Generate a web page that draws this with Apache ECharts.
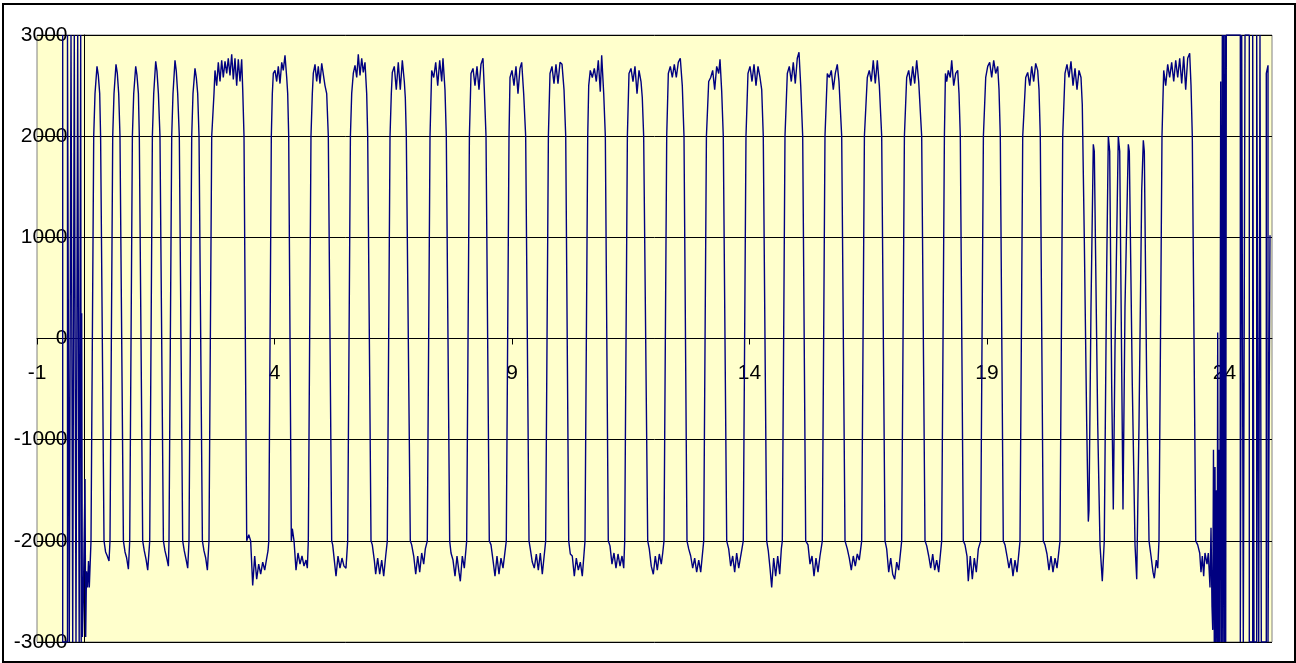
<!DOCTYPE html>
<html><head><meta charset="utf-8">
<script src="https://cdn.jsdelivr.net/npm/echarts@6/dist/echarts.min.js"></script>
<style>html,body{margin:0;padding:0;background:#fff}#c{width:1296px;height:663px}</style>
</head><body><div id="c"></div>
<script>
// Axis ticks / ranges
const xTickValues = [-1, 4, 9, 14, 19, 24];
const xRange = [-1, 25];
const yRange = [-3000, 3000];
const yStep = 1000;

// Signal, as [time, value] vertices
const leftNoise = [[-0.459,3000],[-0.459,-3000],[-0.358,-3000],[-0.358,3000],[-0.32,3000],[-0.32,-3000],[-0.284,-3000],[-0.284,3000],[-0.248,3000],[-0.248,-3000],[-0.215,-3000],[-0.215,3000],[-0.179,3000],[-0.179,-3000],[-0.143,-3000],[-0.143,3000],[-0.112,3000],[-0.112,-3000],[-0.08,-3000],[-0.08,3000],[-0.069,-3000],[-0.059,250],[-0.045,-2950],[-0.025,-2600],[0.011,-1390],[0.025,-2950],[0.042,-2300],[0.063,-2460],[0.084,-2200],[0.101,-2460]];

const waveA = [
[0.137,-2000],[0.194,2000],[0.221,2420],[0.263,2690],[0.291,2600],[0.32,2420],[0.339,2000],[0.411,-2000],[0.444,-2110],[0.48,-2150],[0.516,-2200],
[0.537,-2000],[0.594,2000],[0.621,2420],[0.663,2710],[0.691,2620],[0.72,2420],[0.747,2000],[0.819,-2000],[0.853,-2110],[0.888,-2170],[0.924,-2280],
[0.952,-2000],[1.008,2000],[1.036,2420],[1.078,2690],[1.105,2600],[1.135,2420],[1.154,2000],[1.225,-2000],[1.259,-2100],[1.295,-2180],[1.331,-2290],
[1.373,-2000],[1.429,2000],[1.457,2420],[1.499,2740],[1.526,2640],[1.556,2420],[1.589,2000],[1.661,-2000],[1.695,-2100],[1.731,-2170],[1.766,-2250],
[1.779,-2000],[1.836,2000],[1.863,2420],[1.905,2750],[1.933,2640],[1.962,2420],[1.996,2000],[2.067,-2000],[2.101,-2100],[2.137,-2180],[2.173,-2270],
[2.2,-2000],[2.257,2000],[2.284,2420],[2.326,2670],[2.354,2580],[2.383,2420],[2.411,2000],[2.482,-2000],[2.516,-2100],[2.552,-2170],[2.587,-2290],
[2.621,-2000],[2.678,2000],[2.726,2420],[2.747,2650],[2.783,2500],[2.817,2730],[2.853,2540],[2.888,2750],[2.922,2580],[2.958,2740],[2.994,2620],[3.027,2770],[3.063,2600],[3.099,2810],[3.133,2560],[3.168,2770],[3.204,2500],[3.238,2760],[3.274,2540],[3.309,2760],[3.331,2460],[3.358,2000],[3.415,-2000],[3.459,-1940],[3.498,-2000],[3.541,-2440],[3.583,-2150],[3.625,-2380],[3.667,-2230],[3.709,-2330],[3.752,-2210],[3.794,-2290],[3.836,-2170],[3.863,-2100]
];

const waveB = [
[3.88,-2000],[3.933,2000],[3.954,2420],[3.975,2620],[4.011,2650],[4.046,2540],[4.08,2690],[4.116,2520],[4.152,2730],[4.185,2650],[4.221,2800],[4.257,2580],[4.278,2420],[4.299,2000],[4.354,-2000],[4.375,-1880],[4.411,-2000],[4.453,-2290],[4.495,-2120],[4.537,-2230],[4.579,-2150],[4.621,-2250],[4.663,-2190],[4.691,-2270],
[4.712,-2000],[4.768,2000],[4.796,2420],[4.817,2620],[4.853,2710],[4.888,2540],[4.922,2690],[4.958,2520],[4.994,2720],[5.027,2730],[5.063,2500],[5.099,2420],[5.133,2000],[5.204,-2000],[5.225,-2040],[5.259,-2190],[5.295,-2350],[5.337,-2150],[5.379,-2270],[5.421,-2170],[5.463,-2250],[5.505,-2270],
[5.541,-2000],[5.598,2000],[5.625,2420],[5.659,2620],[5.695,2700],[5.731,2580],[5.764,2810],[5.8,2600],[5.836,2770],[5.869,2630],[5.905,2730],[5.941,2420],[5.962,2000],[6.032,-2000],[6.059,-2040],[6.101,-2190],[6.13,-2330],[6.172,-2170],[6.215,-2330],[6.257,-2190],[6.299,-2350],[6.341,-2150],
[6.375,-2000],[6.432,2000],[6.459,2420],[6.48,2630],[6.522,2690],[6.564,2460],[6.606,2730],[6.648,2460],[6.691,2750],[6.733,2540],[6.754,2380],[6.775,2000],[6.859,-2000],[6.888,-2040],[6.931,-2150],[6.973,-2330],[7.015,-2150],[7.057,-2310],[7.099,-2120],[7.141,-2230],[7.175,-2080],
[7.217,-2000],[7.274,2000],[7.309,2650],[7.352,2580],[7.394,2730],[7.436,2500],[7.478,2750],[7.52,2540],[7.547,2770],[7.589,2460],[7.617,2000],[7.688,-2000],[7.716,-2120],[7.758,-2190],[7.8,-2350],[7.842,-2150],[7.884,-2310],[7.912,-2400],[7.954,-2150],[7.996,-2270],
[8.046,-2000],[8.103,2000],[8.137,2620],[8.179,2670],[8.221,2500],[8.263,2690],[8.305,2460],[8.347,2710],[8.389,2770],[8.417,2460],[8.453,2000],[8.522,-2000],[8.558,-2040],[8.6,-2190],[8.642,-2350],[8.684,-2150],[8.726,-2330],[8.768,-2170],[8.811,-2270],
[8.88,-2000],[8.937,2000],[8.958,2580],[9,2650],[9.042,2500],[9.084,2690],[9.126,2420],[9.168,2670],[9.204,2730],[9.246,2420],[9.288,2000],[9.358,-2000],[9.385,-2080],[9.427,-2210],[9.469,-2270],[9.512,-2130],[9.554,-2290],[9.596,-2120],[9.638,-2330]
];

const waveC = [
[9.709,-2000],[9.766,2000],[9.8,2620],[9.842,2690],[9.884,2520],[9.926,2710],[9.968,2520],[10.011,2730],[10.053,2710],[10.095,2460],[10.131,2000],[10.194,-2000],[10.228,-2130],[10.269,-2150],[10.312,-2350],[10.354,-2170],[10.396,-2290],[10.438,-2210],[10.48,-2350],
[10.537,-2000],[10.594,2000],[10.615,2500],[10.648,2650],[10.691,2580],[10.733,2670],[10.775,2540],[10.817,2750],[10.859,2440],[10.888,2800],[10.931,2420],[10.965,2000],[11.027,-2000],[11.063,-2050],[11.105,-2230],[11.147,-2120],[11.189,-2270],[11.232,-2130],[11.274,-2250],[11.316,-2150],[11.352,-2270],
[11.373,-2000],[11.429,2000],[11.463,2620],[11.505,2670],[11.547,2540],[11.589,2690],[11.632,2420],[11.674,2650],[11.716,2540],[11.743,2380],[11.772,2000],[11.857,-2000],[11.89,-2080],[11.932,-2250],[11.975,-2330],[12.017,-2150],[12.059,-2290],[12.101,-2130],[12.143,-2230],[12.173,-2120],
[12.2,-2000],[12.257,2000],[12.291,2620],[12.333,2690],[12.375,2580],[12.417,2710],[12.459,2580],[12.501,2730],[12.543,2770],[12.585,2500],[12.621,2000],[12.684,-2000],[12.72,-2080],[12.762,-2150],[12.804,-2270],[12.846,-2170],[12.888,-2310],[12.931,-2190],[12.973,-2310],
[13.036,-2000],[13.093,2000],[13.141,2540],[13.183,2580],[13.225,2650],[13.267,2460],[13.309,2690],[13.352,2620],[13.379,2760],[13.415,2440],[13.448,2000],[13.52,-2000],[13.562,-2080],[13.604,-2250],[13.646,-2150],[13.688,-2310],[13.73,-2120],[13.773,-2270],[13.815,-2150],
[13.869,-2000],[13.926,2000],[13.968,2620],[14.011,2690],[14.053,2540],[14.095,2710],[14.137,2500],[14.179,2690],[14.221,2580],[14.257,2460],[14.29,2000],[14.362,-2000],[14.396,-2100],[14.432,-2270],[14.467,-2460],[14.509,-2170],[14.551,-2350],[14.594,-2150],[14.636,-2330],[14.67,-2080],
[14.691,-2000],[14.747,2000],[14.796,2620],[14.838,2690],[14.88,2540],[14.922,2730],[14.964,2520],[15.006,2770],[15.042,2830],[15.078,2500],[15.12,2000],[15.183,-2000],[15.232,-2040],[15.274,-2230],[15.316,-2150],[15.358,-2350],[15.4,-2170],[15.442,-2310],[15.484,-2150]
];

const waveD = [
[15.533,-2000],[15.589,2000],[15.638,2620],[15.68,2580],[15.722,2650],[15.764,2460],[15.806,2620],[15.848,2710],[15.884,2540],[15.941,2000],[16.011,-2000],[16.059,-2080],[16.101,-2170],[16.143,-2290],[16.185,-2150],[16.227,-2250],[16.269,-2130],[16.311,-2190],
[16.362,-2000],[16.419,2000],[16.48,2580],[16.522,2650],[16.564,2540],[16.606,2750],[16.648,2520],[16.691,2750],[16.733,2500],[16.783,2000],[16.853,-2000],[16.888,-2080],[16.931,-2310],[16.973,-2170],[17.015,-2330],[17.057,-2380],[17.099,-2210],[17.141,-2290],
[17.204,-2000],[17.261,2000],[17.309,2580],[17.352,2650],[17.394,2500],[17.436,2690],[17.478,2520],[17.52,2750],[17.562,2540],[17.625,2000],[17.695,-2000],[17.731,-2050],[17.773,-2150],[17.815,-2270],[17.857,-2130],[17.899,-2290],[17.941,-2190],[17.983,-2310],
[18.046,-2000],[18.103,2000],[18.125,2620],[18.152,2540],[18.185,2650],[18.227,2580],[18.257,2750],[18.299,2500],[18.341,2620],[18.383,2650],[18.411,2420],[18.438,2000],[18.501,-2000],[18.537,-2040],[18.579,-2150],[18.606,-2400],[18.648,-2150],[18.691,-2380],[18.733,-2170],[18.775,-2310],[18.817,-2080],
[18.867,-2000],[18.924,2000],[18.973,2580],[19.015,2690],[19.057,2730],[19.099,2580],[19.141,2750],[19.183,2620],[19.225,2690],[19.253,2460],[19.28,2000],[19.343,-2000],[19.379,-2040],[19.421,-2150],[19.463,-2270],[19.505,-2170],[19.547,-2350],[19.589,-2190],[19.632,-2310],
[19.695,-2000],[19.752,2000],[19.815,2580],[19.857,2630],[19.899,2500],[19.941,2690],[19.983,2540],[20.025,2720],[20.067,2650],[20.095,2460],[20.122,2000],[20.185,-2000],[20.221,-2040],[20.263,-2130],[20.305,-2290],[20.347,-2150],[20.389,-2310],[20.432,-2170],[20.474,-2270],
[20.537,-2000],[20.594,2000],[20.642,2620],[20.684,2710],[20.726,2580],[20.768,2740],[20.811,2500],[20.853,2670],[20.895,2460],[20.937,2650],[20.979,2580],[21.006,2310],[21.048,1000],[21.099,-850],[21.133,-1810]
];

const burst = [[21.147,-1700],[21.189,300],[21.238,1920],[21.259,1850],[21.331,-850],[21.379,-2040],[21.427,-2400],[21.469,-2000],[21.52,700],[21.554,2000],[21.583,1850],[21.625,-460],[21.659,-1690],[21.695,-80],[21.764,2000],[21.794,1850],[21.863,-1690],[21.905,310],[21.975,1920],[21.996,1850],[22.059,-460],[22.116,-2040],[22.152,-2380],[22.2,-850],[22.257,1460],[22.291,1960],[22.312,1850],[22.362,-460],[22.411,-2000],[22.453,-2150],[22.495,-2310],[22.522,-2370],[22.564,-2190],[22.594,-2270]];

const waveE = [[22.621,-2000],[22.684,2000],[22.72,2650],[22.762,2500],[22.804,2710],[22.846,2580],[22.888,2730],[22.931,2540],[22.973,2750],[23.015,2580],[23.057,2770],[23.099,2520],[23.141,2790],[23.183,2460],[23.225,2770],[23.267,2820],[23.295,2500],[23.322,2000],[23.394,-2000],[23.436,-2040],[23.478,-2120],[23.505,-2310],[23.533,-2150],[23.562,-2350],[23.589,-2120],[23.632,-2230],[23.659,-2120],[23.695,-2460],[23.716,-1870],[23.737,-2650],[23.752,-2880]];

const rightNoise = [[23.768,-1100],[23.785,-3000],[23.8,-1270],[23.815,-3000],[23.832,-1500],[23.846,-3000],[23.857,60],[23.869,-3000],[23.884,-1100],[23.899,-3000],[23.92,2540],[23.933,-3000],[23.954,3000],[23.964,-3000],[23.979,3000],[23.996,-3000],[24.011,3000],[24.025,-3000],[24.038,3000],[24.333,3000],[24.333,-3000],[24.362,-3000],[24.362,3000],[24.396,3000],[24.396,-3000],[24.432,-3000],[24.432,3000],[24.522,3000],[24.522,-3000],[24.594,-3000],[24.594,3000],[24.621,3000],[24.621,-3000],[24.678,-3000],[24.678,3000],[24.72,3000],[24.72,-3000],[24.747,-3000],[24.747,3000],[24.775,3000],[24.775,-3000],[24.88,-3000],[24.88,2620],[24.916,2700],[24.916,-3000],[24.958,-3000],[24.958,1020]];

const signal = [].concat(leftNoise, waveA, waveB, waveC, waveD, burst, waveE, rightNoise);

const FONT = "'Liberation Sans', Arial, sans-serif";
const GRID = {left: 37, top: 35, width: 1235, height: 607};
// distance from the grid's bottom edge up to value 0, and from left edge to time 0
const xAxisShift = GRID.height * (0 - yRange[0]) / (yRange[1] - yRange[0]);
const yAxisShift = GRID.width * (0 - xRange[0]) / (xRange[1] - xRange[0]);

const chart = echarts.init(document.getElementById('c'), null, {renderer: 'canvas'});
chart.setOption({
  animation: false,
  backgroundColor: '#ffffff',
  graphic: [{
    type: 'rect', z: 100, silent: true,
    shape: {x: 3, y: 4, width: 1292, height: 658},
    style: {fill: 'none', stroke: '#000', lineWidth: 2}
  }],
  grid: Object.assign({show: true, containLabel: false, outerBoundsMode: 'none',
         backgroundColor: '#FFFFCC', borderColor: '#808080', borderWidth: 1}, GRID),
  xAxis: {
    type: 'value', min: xRange[0], max: xRange[1], position: 'bottom', offset: -xAxisShift,
    axisLine: {onZero: false, lineStyle: {color: '#000', width: 1}},
    axisTick: {show: true, customValues: xTickValues, length: 6, lineStyle: {color: '#000'}},
    axisLabel: {customValues: xTickValues, margin: 24, fontSize: 21, color: '#000', fontFamily: FONT,
                formatter: v => String(v)},
    splitLine: {show: false}
  },
  yAxis: {
    type: 'value', min: yRange[0], max: yRange[1], interval: yStep, position: 'left', offset: -yAxisShift,
    axisLine: {show: true, onZero: false, lineStyle: {color: '#000', width: 1}},
    axisTick: {show: true, length: 5, lineStyle: {color: '#000'}},
    axisLabel: {margin: 17, fontSize: 21, color: '#000', fontFamily: FONT, formatter: v => String(v)},
    splitLine: {show: true, lineStyle: {color: '#000', width: 1}}
  },
  series: [{
    type: 'line', data: signal, showSymbol: false, symbol: 'none',
    lineStyle: {color: '#000080', width: 1.4}, clip: true, z: 3
  }]
});
</script>
</body></html>
